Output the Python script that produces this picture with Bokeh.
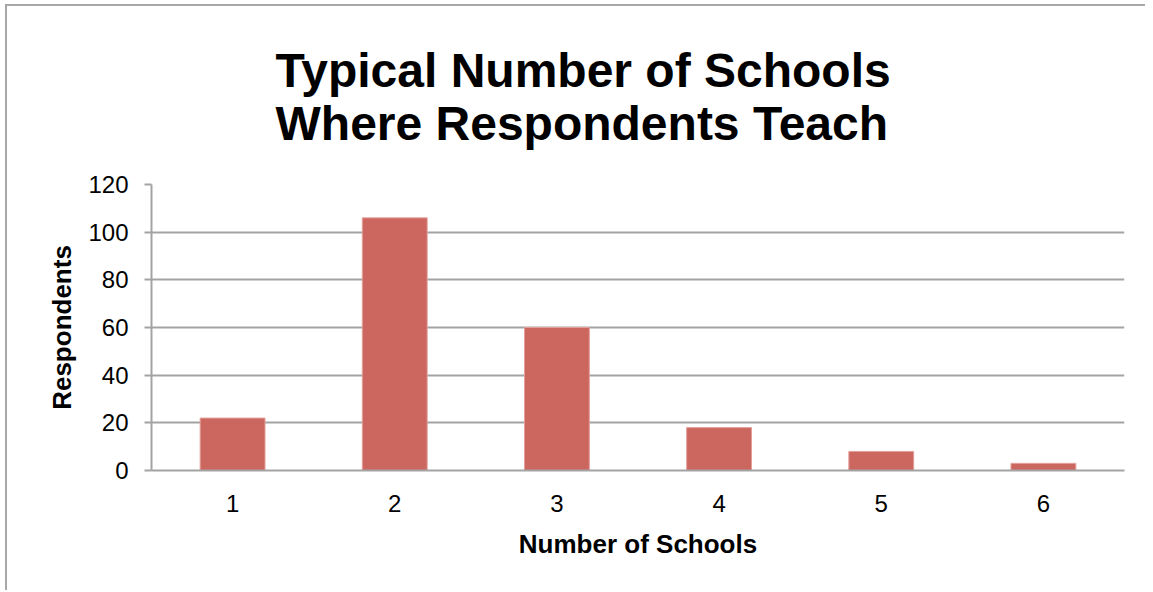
from bokeh.plotting import figure
from bokeh.models import Range1d, FixedTicker, Title
from bokeh.embed import file_html
from bokeh.resources import INLINE

categories = ["1", "2", "3", "4", "5", "6"]
respondents = [22, 106, 60, 18, 8, 3]
y_ticks = [0, 20, 40, 60, 80, 100, 120]
title_lines = ["Typical Number of Schools", "Where Respondents Teach"]

FONT = "Liberation Sans"
GRID = "#a3a3a3"

p = figure(x_range=categories, y_range=Range1d(0, 120), width=1140, height=586,
           output_backend="svg", toolbar_location=None, title=None,
           min_border_left=144, min_border_right=23, min_border_top=178,
           min_border_bottom=122)

p.vbar(x=categories, top=respondents, width=0.4, fill_color="#CC6760",
       line_color="#E3A09B", line_width=1)

p.add_layout(Title(text="\n".join(title_lines), align="left", offset=124,
                   text_font=FONT, text_font_size="48px", text_font_style="bold",
                   text_color="#000000", standoff=70), "above")

p.outline_line_color = None
p.xgrid.grid_line_color = None
p.ygrid.grid_line_color = GRID
p.ygrid.grid_line_width = 2
p.yaxis.ticker = FixedTicker(ticks=y_ticks)

for ax in (p.xaxis, p.yaxis):
    ax.axis_line_color = GRID
    ax.axis_line_width = 2
    ax.major_label_text_font = FONT
    ax.major_label_text_font_size = "24px"
    ax.major_label_text_color = "#000000"
    ax.axis_label_text_font = FONT
    ax.axis_label_text_font_size = "26px"
    ax.axis_label_text_font_style = "bold"
    ax.axis_label_text_color = "#000000"
    ax.minor_tick_line_color = None

p.yaxis.major_tick_line_color = GRID
p.yaxis.major_tick_line_width = 2
p.yaxis.major_tick_out = 7
p.yaxis.major_tick_in = 0
p.yaxis.major_label_standoff = 16
p.yaxis.axis_label = "Respondents"
p.yaxis.axis_label_standoff = 8

p.xaxis.major_tick_line_color = None
p.xaxis.major_label_standoff = 18
p.xaxis.axis_label = "Number of Schools"
p.xaxis.axis_label_standoff = 14

p.styles = {"border-left": "2px solid #a8a8a8", "border-top": "2px solid #a8a8a8",
            "margin-left": "5px", "margin-top": "4px"}

open("out.html", "w").write(file_html(p, INLINE))
